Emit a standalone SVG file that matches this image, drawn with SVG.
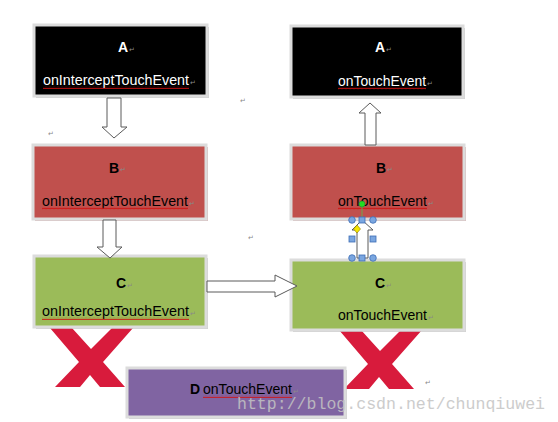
<svg xmlns="http://www.w3.org/2000/svg" width="558" height="422" viewBox="0 0 558 422">
<style>
.box{stroke:#dcdcdc;stroke-width:3}
.shadow{fill:#b0b0b0;opacity:0.6}
.lbl{font-family:"Liberation Sans","Open Sans",sans-serif;font-size:14px}
.hd{font-family:"Liberation Sans","Open Sans",sans-serif;font-size:14px;font-weight:bold}
.pm{font-family:"DejaVu Sans",sans-serif;font-size:7px;fill:#8a8a8a}
.arrow{fill:#ffffff;stroke:#5a5a5a;stroke-width:1}
.x{fill:#d81b3c}
.wm{font-family:"Liberation Mono",monospace;font-size:16.5px;fill:#c4c4c4;opacity:0.85}
.h-c{fill:#7aa6e0;stroke:#3d6db5;stroke-width:0.8}
</style>
<defs>
<pattern id="wave" width="4" height="3" patternUnits="userSpaceOnUse">
<path d="M0,2.2 L1,0.8 L2,2.2 L3,0.8 L4,2.2" fill="none" stroke="#d01010" stroke-width="0.8"/>
</pattern>
</defs>

<!-- red crosses -->
<polygon class="x" points="50,328 72,328 91,349 112,328 133,328 103,362 125,387 100,387 90,375 80,387 55,387 79,362"/>
<polygon class="x" points="339,330 361,330 380,351 401,330 422,330 392,364 414,389 389,389 379,377 369,389 344,389 368,364"/>

<g id="nodeA1">
<rect class="shadow" x="36" y="27" width="173" height="71"/>
<rect class="box" x="34" y="25" width="173" height="71" fill="#000000"/>
<text class="hd" x="123" y="52" text-anchor="middle" fill="#ffffff">A</text>
<text class="pm" x="129" y="52">↵</text>
<text class="lbl" x="43" y="85" fill="#ffffff" textLength="146" lengthAdjust="spacingAndGlyphs">onInterceptTouchEvent</text>
<rect x="43" y="86" width="146" height="3" fill="url(#wave)"/>
<text class="pm" x="190" y="85">↵</text>
</g>

<g id="nodeA2">
<rect class="shadow" x="293" y="28" width="172" height="71"/>
<rect class="box" x="291" y="26" width="172" height="71" fill="#000000"/>
<text class="hd" x="380" y="52" text-anchor="middle" fill="#ffffff">A</text>
<text class="pm" x="386" y="52">↵</text>
<text class="lbl" x="338" y="86" fill="#ffffff" textLength="88" lengthAdjust="spacingAndGlyphs">onTouchEvent</text>
<rect x="338" y="87" width="88" height="3" fill="url(#wave)"/>
<text class="pm" x="427" y="86">↵</text>
</g>

<g id="nodeB1">
<rect x="35" y="147" width="173" height="74" fill="#c8a0a0" opacity="0.7"/>
<rect class="box" x="33" y="145" width="173" height="74" fill="#c0504d"/>
<text class="hd" x="114" y="173" text-anchor="middle" fill="#000000">B</text>
<text class="pm" x="120" y="172">↵</text>
<text class="lbl" x="42" y="206" fill="#000000" textLength="146" lengthAdjust="spacingAndGlyphs">onInterceptTouchEvent</text>
<rect x="42" y="207" width="146" height="3" fill="url(#wave)"/>
<text class="pm" x="189" y="206">↵</text>
</g>

<g id="nodeB2">
<rect x="293" y="147" width="173" height="74" fill="#c8a0a0" opacity="0.7"/>
<rect class="box" x="291" y="145" width="173" height="74" fill="#c0504d"/>
<text class="hd" x="381" y="173" text-anchor="middle" fill="#000000">B</text>
<text class="pm" x="387" y="172">↵</text>
<text class="lbl" x="338" y="206" fill="#000000" textLength="89" lengthAdjust="spacingAndGlyphs">onTouchEvent</text>
<rect x="338" y="207" width="89" height="3" fill="url(#wave)"/>
<text class="pm" x="428" y="206">↵</text>
</g>

<g id="nodeC1">
<rect class="shadow" x="36" y="258" width="172" height="71"/>
<rect class="box" x="34" y="256" width="172" height="71" fill="#9bbb59"/>
<text class="hd" x="121" y="288" text-anchor="middle" fill="#000000">C</text>
<text class="pm" x="127" y="288">↵</text>
<text class="lbl" x="42" y="316" fill="#000000" textLength="147" lengthAdjust="spacingAndGlyphs">onInterceptTouchEvent</text>
<rect x="42" y="317" width="147" height="3" fill="url(#wave)"/>
<text class="pm" x="190" y="316">↵</text>
</g>

<g id="nodeC2">
<rect class="shadow" x="293" y="262" width="173" height="70"/>
<rect class="box" x="291" y="260" width="173" height="70" fill="#9bbb59"/>
<text class="hd" x="380" y="288" text-anchor="middle" fill="#000000">C</text>
<text class="pm" x="386" y="288">↵</text>
<text class="lbl" x="338" y="320" fill="#000000" textLength="89" lengthAdjust="spacingAndGlyphs">onTouchEvent</text>
<text class="pm" x="428" y="320">↵</text>
</g>

<g id="nodeD">
<rect class="shadow" x="129" y="370" width="218" height="49"/>
<rect class="box" x="127" y="368" width="218" height="49" fill="#8064a2"/>
<text class="hd" x="190" y="394" fill="#000000">D</text>
<text class="lbl" x="203" y="394" fill="#000000" textLength="89" lengthAdjust="spacingAndGlyphs">onTouchEvent</text>
<rect x="203" y="395" width="89" height="3" fill="url(#wave)"/>
<text class="pm" x="293" y="394">↵</text>
</g>

<g id="connectors">
<polygon class="arrow" points="107,98 121,98 121,127 127,127 114,138 102,127 107,127"/>
<polygon class="arrow" points="103,220 116,220 116,247 122,247 110,258 97,247 103,247"/>
<polygon class="arrow" points="207,281 275,281 275,275 297,286 275,297 275,292 207,292"/>
<polygon class="arrow" points="365,145 376,145 376,113 381,113 370,103 359,113 365,113"/>
<polygon class="arrow" points="357,258 368,258 368,230 373,230 362,220 352,230 357,230"/>
</g>

<!-- selection handles -->
<g id="selection">
<line x1="362" y1="204" x2="362" y2="220" stroke="#6aa84f" stroke-width="1"/>
<circle cx="362" cy="204" r="3" fill="#22dd22" stroke="#2a8a2a" stroke-width="0.6"/>
<circle class="h-c" cx="352" cy="220" r="3.3"/>
<circle class="h-c" cx="373" cy="220" r="3.3"/>
<circle class="h-c" cx="352" cy="258" r="3.3"/>
<circle class="h-c" cx="373" cy="258" r="3.3"/>
<rect class="h-c" x="359" y="217" width="6" height="6"/>
<rect class="h-c" x="349" y="236" width="6" height="6"/>
<rect class="h-c" x="370" y="236" width="6" height="6"/>
<rect class="h-c" x="359" y="255" width="6" height="6"/>
<polygon points="357,225 360.5,229 357,233 353.5,229" fill="#f5e600" stroke="#8a7a00" stroke-width="0.6"/>
</g>

<text class="pm" x="240" y="103">↵</text>
<text class="pm" x="48" y="136">↵</text>
<text class="pm" x="248" y="240">↵</text>
<text class="pm" x="425" y="385">↵</text>

<text class="wm" x="237" y="409" textLength="308" lengthAdjust="spacingAndGlyphs">http://blog.csdn.net/chunqiuwei</text>
</svg>
